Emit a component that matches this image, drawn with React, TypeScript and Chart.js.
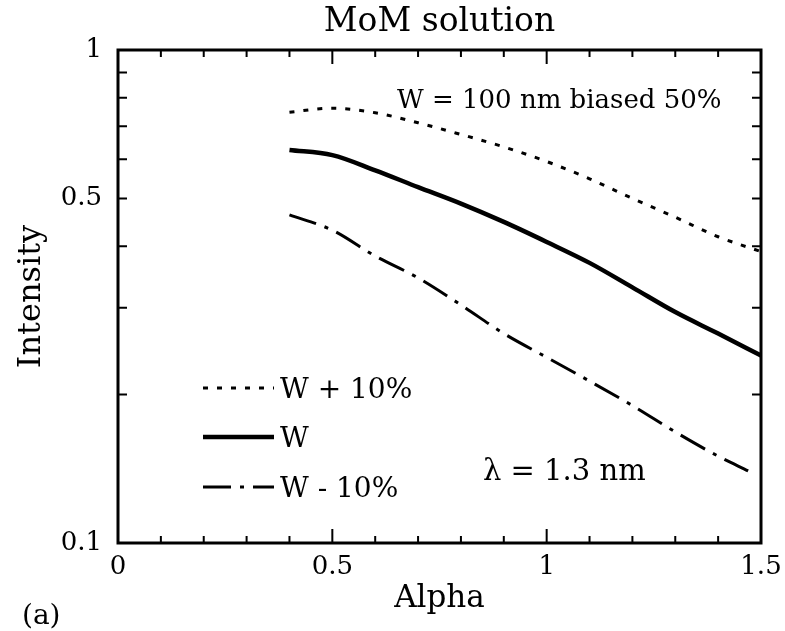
import React, { useEffect, useRef } from "react";
import { Chart, registerables } from "chart.js";

Chart.register(...registerables);

// ---- data ----
const alphaValues = [0.4, 0.5, 0.6, 0.7, 0.8, 0.9, 1.0, 1.1, 1.2, 1.3, 1.4, 1.5];
const wPlus10 = [0.748, 0.762, 0.746, 0.712, 0.674, 0.636, 0.594, 0.548, 0.5, 0.458, 0.418, 0.39];
const wNominal = [0.627, 0.612, 0.57, 0.527, 0.488, 0.448, 0.408, 0.37, 0.33, 0.294, 0.266, 0.24];
const alphaMinus = [0.4, 0.5, 0.6, 0.7, 0.8, 0.9, 1.0, 1.1, 1.2, 1.3, 1.4, 1.47];
const wMinus10 = [0.463, 0.431, 0.382, 0.345, 0.304, 0.266, 0.238, 0.213, 0.19, 0.168, 0.15, 0.14];

const seriesLabels = ["W + 10%", "W", "W - 10%"];
const xTickLabels = [0, 0.5, 1, 1.5];
const yTickLabels = [0.1, 0.5, 1];
const xMinorTicks = [0.1, 0.2, 0.3, 0.4, 0.5, 0.6, 0.7, 0.8, 0.9, 1.0, 1.1, 1.2, 1.3, 1.4];
const xMajorTicks = [0.5, 1.0];
const yMinorTicks = [0.2, 0.3, 0.4, 0.5, 0.6, 0.7, 0.8, 0.9];

const titleText = "MoM solution";
const noteTop = "W = 100 nm biased 50%";
const noteLambda = "λ = 1.3 nm";
const panelLabel = "(a)";

const FONT = "'DejaVu Serif', serif";

const dashes: number[][] = [[5, 9], [], [28, 9, 4, 9]];
const widths = [3, 4.5, 3];

const toPts = (xs: number[], ys: number[]) => xs.map((x, i) => ({ x, y: ys[i] }));

const decorPlugin = {
  id: "decor",
  afterDraw(chart: any) {
    const { ctx, chartArea, scales } = chart;
    const xs = scales.x;
    const ys = scales.y;
    const { left, right, top, bottom } = chartArea;
    ctx.save();
    ctx.strokeStyle = "#000";
    ctx.fillStyle = "#000";
    // frame
    ctx.lineWidth = 3;
    ctx.strokeRect(left, top, right - left, bottom - top);
    // x ticks (bottom & top, inward)
    ctx.lineWidth = 2;
    xMinorTicks.forEach((v) => {
      const px = xs.getPixelForValue(v);
      const len = xMajorTicks.some((m) => Math.abs(m - v) < 1e-6) ? 14 : 7;
      ctx.beginPath();
      ctx.moveTo(px, bottom);
      ctx.lineTo(px, bottom - len);
      ctx.moveTo(px, top);
      ctx.lineTo(px, top + len);
      ctx.stroke();
    });
    // y ticks (left & right, inward)
    yMinorTicks.forEach((v) => {
      const py = ys.getPixelForValue(v);
      ctx.beginPath();
      ctx.moveTo(left, py);
      ctx.lineTo(left + 9, py);
      ctx.moveTo(right, py);
      ctx.lineTo(right - 9, py);
      ctx.stroke();
    });
    // title
    ctx.font = `33px ${FONT}`;
    ctx.textAlign = "center";
    ctx.textBaseline = "alphabetic";
    ctx.fillText(titleText, (left + right) / 2, 31);
    // annotations
    ctx.font = `26px ${FONT}`;
    ctx.textAlign = "left";
    ctx.fillText(noteTop, 397, 108);
    ctx.font = `29px ${FONT}`;
    ctx.fillText(noteLambda, 483, 480);
    ctx.font = `28px ${FONT}`;
    ctx.fillText(panelLabel, 22, 624);
    // legend
    const legY = [388, 437, 487];
    seriesLabels.forEach((lab, i) => {
      ctx.save();
      ctx.lineWidth = widths[i];
      ctx.setLineDash(dashes[i]);
      ctx.beginPath();
      ctx.moveTo(203, legY[i]);
      ctx.lineTo(274, legY[i]);
      ctx.stroke();
      ctx.restore();
      ctx.font = `28px ${FONT}`;
      ctx.textBaseline = "alphabetic";
      ctx.fillText(lab, 280, legY[i] + 10);
    });
    ctx.restore();
  },
};

export default function App() {
  const ref = useRef<HTMLCanvasElement>(null);
  useEffect(() => {
    document.body.style.margin = "0";
    const canvas = ref.current!;
    const chart = new Chart(canvas, {
      type: "line",
      data: {
        datasets: [
          { label: seriesLabels[0], data: toPts(alphaValues, wPlus10) },
          { label: seriesLabels[1], data: toPts(alphaValues, wNominal) },
          { label: seriesLabels[2], data: toPts(alphaMinus, wMinus10) },
        ].map((d, i) => ({
          ...d,
          borderColor: "#000",
          backgroundColor: "#000",
          borderWidth: widths[i],
          borderDash: dashes[i],
          pointRadius: 0,
          fill: false,
          cubicInterpolationMode: "monotone" as const,
        })),
      },
      options: {
        animation: false,
        responsive: false,
        layout: { padding: { top: 50, right: 24, left: 0, bottom: 0 } },
        plugins: {
          legend: { display: false },
          tooltip: { enabled: false },
          title: { display: false },
        },
        scales: {
          x: {
            type: "linear",
            min: 0,
            max: 1.5,
            afterBuildTicks: (s: any) => {
              s.ticks = xTickLabels.map((v) => ({ value: v }));
            },
            afterFit: (s: any) => {
              s.height = 88;
              s.paddingLeft = 0;
              s.paddingRight = 0;
            },
            grid: { display: false, drawTicks: false },
            border: { display: false },
            ticks: {
              padding: 9,
              color: "#000",
              font: { family: FONT, size: 26 },
              maxRotation: 0,
              callback: (v: any) => String(v),
            },
            title: {
              display: true,
              text: "Alpha",
              color: "#000",
              font: { family: FONT, size: 31 },
              padding: { top: 0, bottom: 13 },
            },
          },
          y: {
            type: "logarithmic",
            min: 0.1,
            max: 1,
            afterBuildTicks: (s: any) => {
              s.ticks = yTickLabels.map((v) => ({ value: v }));
            },
            afterFit: (s: any) => {
              s.width = 118;
              s.paddingTop = 0;
              s.paddingBottom = 0;
            },
            grid: { display: false, drawTicks: false },
            border: { display: false },
            ticks: {
              padding: 16,
              color: "#000",
              font: { family: FONT, size: 26 },
              callback: (v: any) => String(v),
            },
            title: {
              display: true,
              text: "Intensity",
              color: "#000",
              font: { family: FONT, size: 32 },
              padding: { top: 12, bottom: 0 },
            },
          },
        },
      },
      plugins: [decorPlugin],
    });
    return () => chart.destroy();
  }, []);
  return (
    <div style={{ width: 785, height: 631, background: "#fff" }}>
      <canvas ref={ref} width={785} height={631} style={{ display: "block" }} />
    </div>
  );
}
